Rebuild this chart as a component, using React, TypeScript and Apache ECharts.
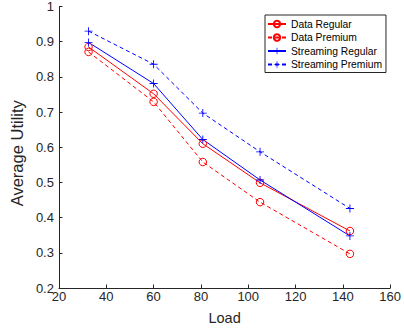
import React, { useEffect, useRef } from "react";
import * as echarts from "echarts";

const loads = [32.5, 60, 80.8, 105, 143];
const dataRegular = [0.885, 0.752, 0.61, 0.499, 0.362];
const dataPremium = [0.871, 0.729, 0.558, 0.444, 0.297];
const streamingRegular = [0.898, 0.781, 0.622, 0.507, 0.348];
const streamingPremium = [0.93, 0.836, 0.697, 0.587, 0.426];
const seriesNames = ["Data Regular", "Data Premium", "Streaming Regular", "Streaming Premium"];
const xTicks = { min: 20, max: 160, step: 20 };
const yTicks = { min: 0.2, max: 1, step: 0.1 };

const PLUS = "path://M4.45,0H5.55V4.45H10V5.55H5.55V10H4.45V5.55H0V4.45H4.45Z";
const AX = "#262626";
const FONT = "'Liberation Sans', Arial, Helvetica, sans-serif";

function pairs(xs: number[], ys: number[]) {
  return xs.map((x, i) => [x, ys[i]]);
}

export default function App() {
  const ref = useRef<HTMLDivElement>(null);
  useEffect(() => {
    if (!ref.current) return;
    const chart = echarts.init(ref.current, undefined, { renderer: "svg" });
    const mk = (name: string, vals: number[], color: string, dashed: boolean, circle: boolean) => ({
      name,
      type: "line",
      data: pairs(loads, vals),
      symbol: circle ? "circle" : PLUS,
      symbolSize: circle ? 7.5 : 8,
      showSymbol: true,
      lineStyle: { color, width: 1, type: dashed ? [4, 3] : "solid" },
      itemStyle: circle
        ? { color: "rgba(0,0,0,0)", borderColor: color, borderWidth: 1 }
        : { color, borderWidth: 0 },
      emphasis: { disabled: true },
      z: 2,
    });
    chart.setOption({
      animation: false,
      textStyle: { fontFamily: FONT },
      grid: { left: 49, right: 11, top: 6, bottom: 43, containLabel: false },
      legend: {
        data: seriesNames,
        orient: "vertical",
        left: 265,
        top: 15,
        itemWidth: 18,
        itemHeight: 8,
        itemGap: 1.5,
        padding: [3, 4, 2, 2],
        backgroundColor: "#fff",
        borderColor: AX,
        borderWidth: 1,
        borderRadius: 0,
        textStyle: { fontSize: 10.3, lineHeight: 12, color: "#000", fontFamily: FONT },
        selectedMode: false,
      },
      xAxis: {
        type: "value",
        min: xTicks.min,
        max: xTicks.max,
        interval: xTicks.step,
        name: "Load",
        nameLocation: "middle",
        nameGap: 22,
        nameTextStyle: { fontSize: 14.5, color: AX, fontFamily: FONT },
        axisLine: { show: true, onZero: false, lineStyle: { color: AX, width: 1 } },
        axisTick: { show: true, inside: true, length: 3.5, lineStyle: { color: AX } },
        axisLabel: { color: AX, fontSize: 13, margin: 2, fontFamily: FONT, showMaxLabel: true, showMinLabel: true },
        splitLine: { show: false },
      },
      yAxis: {
        type: "value",
        min: yTicks.min,
        max: yTicks.max,
        interval: yTicks.step,
        name: "Average Utility",
        nameLocation: "middle",
        nameGap: 24,
        nameTextStyle: { fontSize: 16.5, color: AX, fontFamily: FONT, padding: [0, 12, 0, 0] },
        axisLine: { show: true, onZero: false, lineStyle: { color: AX, width: 1 } },
        axisTick: { show: true, inside: true, length: 3.5, lineStyle: { color: AX } },
        axisLabel: {
          color: AX,
          fontSize: 13,
          margin: 5,
          fontFamily: FONT,
          formatter: (v: number) => String(Math.round(v * 10) / 10),
        },
        splitLine: { show: false },
      },
      series: [
        mk(seriesNames[0], dataRegular, "#ff0000", false, true),
        mk(seriesNames[1], dataPremium, "#ff0000", true, true),
        mk(seriesNames[2], streamingRegular, "#0000ff", false, false),
        mk(seriesNames[3], streamingPremium, "#0000ff", true, false),
      ],
    });
    return () => chart.dispose();
  }, []);
  return (
    <div
      ref={ref}
      style={{ position: "fixed", left: 0, top: 0, width: 404, height: 331, background: "#fff" }}
    />
  );
}
